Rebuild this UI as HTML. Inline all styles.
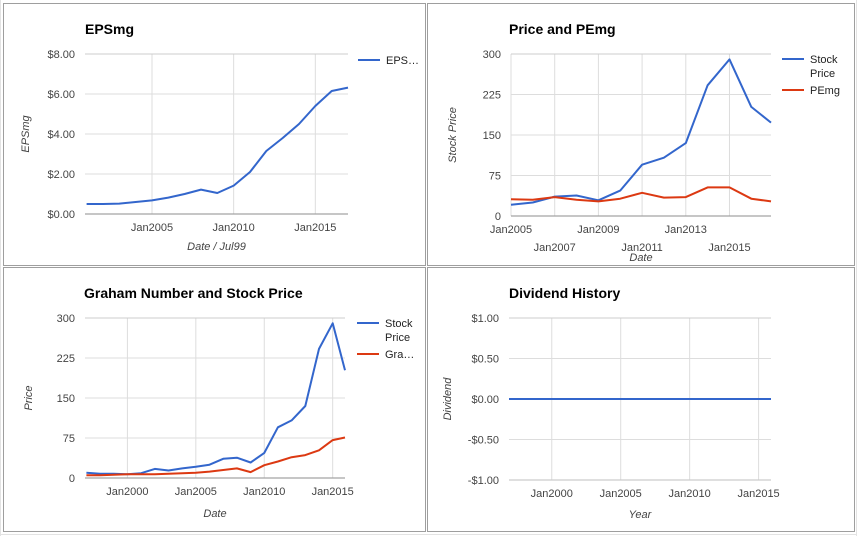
<!DOCTYPE html>
<html><head><meta charset="utf-8">
<style>
html,body{margin:0;padding:0;background:#fff;}
svg{display:block;font-family:"Liberation Sans",Arial,sans-serif;}
</style></head>
<body>
<svg id="root" width="857" height="536" viewBox="0 0 857 536" xmlns="http://www.w3.org/2000/svg">
<rect x="0" y="0" width="857" height="536" fill="#fff"/>
<g stroke="#e3e3e3" stroke-width="1">
<line x1="0.5" y1="0" x2="0.5" y2="536"/><line x1="856.5" y1="0" x2="856.5" y2="536"/>
<line x1="0" y1="534.5" x2="857" y2="534.5"/>
</g>
<rect x="3.5" y="3.5" width="422" height="262" fill="#fff" stroke="#9e9e9e"/>
<rect x="427.5" y="3.5" width="427" height="262" fill="#fff" stroke="#9e9e9e"/>
<rect x="3.5" y="267.5" width="422" height="264" fill="#fff" stroke="#9e9e9e"/>
<rect x="427.5" y="267.5" width="427" height="264" fill="#fff" stroke="#9e9e9e"/>
<g id="charts"></g>
</svg>
<script>
// EPSmg chart data
const epsYears = [2001,2002,2003,2004,2005,2006,2007,2008,2009,2010,2011,2012,2013,2014,2015,2016,2017];
const epsValues = [0.5,0.5,0.52,0.6,0.68,0.82,1.0,1.22,1.05,1.42,2.1,3.15,3.8,4.5,5.4,6.15,6.32];
const epsTicks = ["$0.00","$2.00","$4.00","$6.00","$8.00"];
// Price and PEmg
const pYears = [2005,2006,2007,2008,2009,2010,2011,2012,2013,2014,2015,2016,2016.9];
const pStock = [21,25,36,38,29,47,95,108,135,242,290,202,173];
const pPEmg = [31,30,35,30,27,32,43,34,35,53,53,32,27];
const pTicks = ["0","75","150","225","300"];
// Graham
const gYears = [1997,1998,1999,2000,2001,2002,2003,2004,2005,2006,2007,2008,2009,2010,2011,2012,2013,2014,2015,2015.9];
const gStock = [10,8,8,7,9,17,14,18,21,25,36,38,29,47,95,108,135,242,290,202];
const gGraham = [5,5,6,7,7,7,8,9,10,12,15,18,11,24,31,39,43,52,71,76];
// Dividend
const dYears = [1996.9,2015.9];
const dValues = [0,0];
const dTicks = ["-$1.00","-$0.50","$0.00","$0.50","$1.00"];

const NS="http://www.w3.org/2000/svg";
const root=document.getElementById('charts');
function mk(tag,attrs,parent,text){const e=document.createElementNS(NS,tag);for(const k in attrs)e.setAttribute(k,attrs[k]);if(text!==undefined)e.textContent=text;(parent||root).appendChild(e);return e;}

function chart(o){
  const g=mk('g',{});
  
  
  const sx=v=>o.x0+(v-o.xmin)/(o.xmax-o.xmin)*(o.x1-o.x0);
  const sy=v=>o.y1-(v-o.ymin)/(o.ymax-o.ymin)*(o.y1-o.y0);
  const t=mk('text',{x:o.tx,y:o.ty,'font-size':14,'font-weight':'bold',fill:'#000'},g,o.title);
  
  
  // vertical gridlines
  o.xgrid.forEach((yr,i)=>{
    const l=mk('line',{x1:sx(yr),x2:sx(yr),y1:o.y0,y2:o.y1,stroke:'#ddd'},g);
    
    
    const ly=o.y1+17+(o.stagger&&i%2?18:0);
    const tl=mk('text',{x:sx(yr),y:ly,'font-size':11,fill:'#444','text-anchor':'middle'},g,'Jan'+yr);
    
    
  });
  o.yticks.forEach((lab,i)=>{
    const v=o.ymin+i*(o.ymax-o.ymin)/(o.yticks.length-1);
    const y=sy(v);
    const l=mk('line',{x1:o.x0,x2:o.x1,y1:y,y2:y,stroke:(i===0||i===o.yticks.length-1)?'#ccc':'#ddd','stroke-width':(i===0?1.2:1)},g);
    
    
    const tl=mk('text',{x:o.x0-10,y:y+4,'font-size':11,fill:'#444','text-anchor':'end'},g,lab);
    
    
  });
  if(o.baseline!==undefined){const l=mk('line',{x1:o.x0,x2:o.x1,y1:sy(o.baseline),y2:sy(o.baseline),stroke:'#999'},g);}
  const xt=mk('text',{x:(o.x0+o.x1)/2,y:o.xty,'font-size':11,'font-style':'italic',fill:'#444','text-anchor':'middle'},g,o.xtitle);
  
  
  const yt=mk('text',{x:0,y:0,transform:`translate(${o.ytx},${(o.y0+o.y1)/2}) rotate(-90)`,'font-size':11,'font-style':'italic',fill:'#444','text-anchor':'middle'},g,o.ytitle);
  
  
  o.series.forEach((s,si)=>{
    const pts=s.xs.map((x,i)=>sx(x).toFixed(1)+','+sy(s.ys[i]).toFixed(1)).join(' ');
    const p=mk('polyline',{points:pts,fill:'none',stroke:s.color,'stroke-width':2,'stroke-linejoin':'round'},g);
    
    
    if(s.legend){
      const lg=mk('g',{},g);
      
      
      const ly=s.ly;
      mk('line',{x1:o.lx,x2:o.lx+22,y1:ly,y2:ly,stroke:s.color,'stroke-width':2},lg);
      s.legend.forEach((ln,k)=>mk('text',{x:o.lx+28,y:ly+4+k*14,'font-size':11,fill:'#222'},lg,ln));
    }
  });
}
const blue='#3366cc', red='#dc3912';
chart({name:'epsmg-chart',title:'EPSmg',tx:85,ty:34,x0:85,x1:348,y0:54,y1:214,xmin:2000.9,xmax:2017,ymin:0,ymax:8,
  xgrid:[2005,2010,2015],yticks:epsTicks,xtitle:'Date / Jul99',xty:250,ytitle:'EPSmg',ytx:29,baseline:0,lx:358,
  series:[{id:'epsmg',xs:epsYears,ys:epsValues,color:blue,legend:['EPS\u2026'],ly:60}]});
chart({name:'price-pemg-chart',title:'Price and PEmg',tx:509,ty:34,x0:511,x1:771,y0:54,y1:216,xmin:2005,xmax:2016.9,ymin:0,ymax:300,
  xgrid:[2005,2007,2009,2011,2013,2015],stagger:true,yticks:pTicks,xtitle:'Date',xty:261,ytitle:'Stock Price',ytx:456,baseline:0,lx:782,
  series:[{id:'stock-price',xs:pYears,ys:pStock,color:blue,legend:['Stock','Price'],ly:59},{id:'pemg',xs:pYears,ys:pPEmg,color:red,legend:['PEmg'],ly:90}]});
chart({name:'graham-chart',title:'Graham Number and Stock Price',tx:84,ty:298,x0:85,x1:345,y0:318,y1:478,xmin:1996.9,xmax:2015.9,ymin:0,ymax:300,
  xgrid:[2000,2005,2010,2015],yticks:pTicks,xtitle:'Date',xty:517,ytitle:'Price',ytx:32,baseline:0,lx:357,
  series:[{id:'stock-price',xs:gYears,ys:gStock,color:blue,legend:['Stock','Price'],ly:323},{id:'graham-number',xs:gYears,ys:gGraham,color:red,legend:['Gra\u2026'],ly:354}]});
chart({name:'dividend-chart',title:'Dividend History',tx:509,ty:298,x0:509,x1:771,y0:318,y1:480,xmin:1996.9,xmax:2015.9,ymin:-1,ymax:1,
  xgrid:[2000,2005,2010,2015],yticks:dTicks,xtitle:'Year',xty:518,ytitle:'Dividend',ytx:451,
  series:[{id:'dividend',xs:dYears,ys:dValues,color:blue}]});
</script>
</body></html>
